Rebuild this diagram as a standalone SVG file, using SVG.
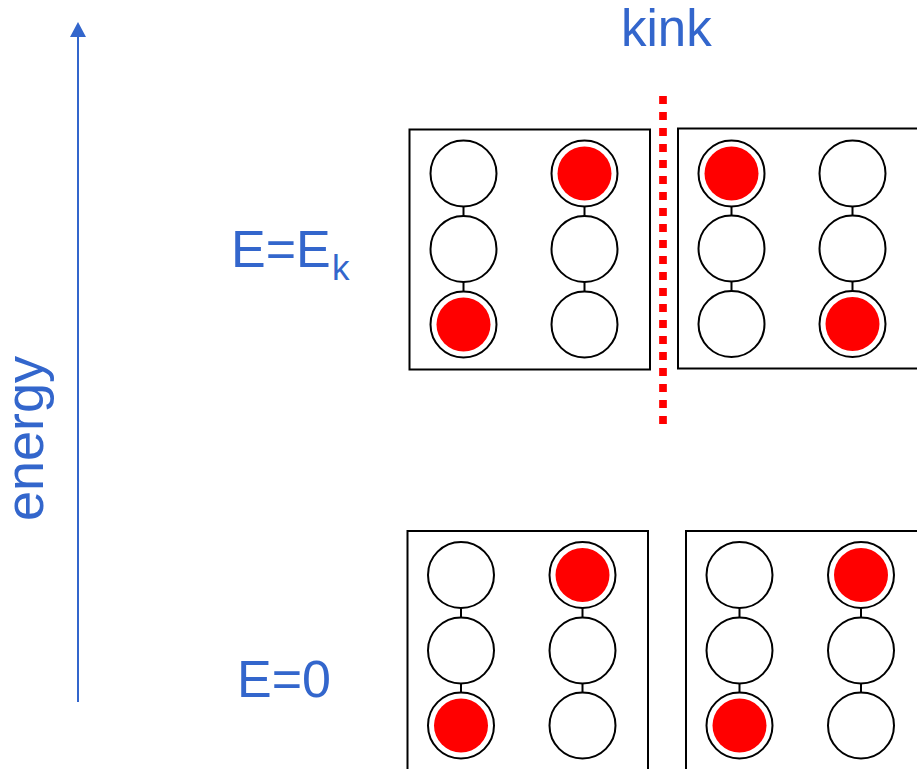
<svg xmlns="http://www.w3.org/2000/svg" width="917" height="769" viewBox="0 0 917 769">
<defs>
<style>
.box{fill:#fff;stroke:#000;stroke-width:2}
.c{fill:#fff;stroke:#000;stroke-width:2}
.dot{fill:#ff0000}
.link{stroke:#000;stroke-width:2}
.lbl{font-family:"Liberation Sans",Arial,sans-serif;fill:#3366cc}
</style>
<marker id="ah" markerWidth="16" markerHeight="16" viewBox="0 0 15 16" refX="0" refY="8" orient="auto" markerUnits="userSpaceOnUse">
<path d="M0,0 L15,8 L0,16 Z" fill="#3366cc"/>
</marker>
</defs>
<rect width="917" height="769" fill="#fff"/>

<g id="connectors">
<line x1="78" y1="702" x2="78" y2="37" stroke="#3366cc" stroke-width="2" marker-end="url(#ah)"/>
<line x1="663" y1="96" x2="663" y2="424" stroke="#ff0000" stroke-width="7.7" stroke-dasharray="8 8"/>
</g>

<g id="axis-label"><text class="lbl" font-size="54" transform="translate(43,521) rotate(-90)">energy</text></g>
<g id="label-kink"><text class="lbl" x="621" y="46" font-size="51">kink</text></g>
<g id="label-ek"><text class="lbl" x="231" y="267" font-size="52">E=E<tspan font-size="35" x="332" y="280">k</tspan></text></g>
<g id="label-e0"><text class="lbl" x="237" y="697" font-size="52">E=0</text></g>

<g id="box-top-left">
<rect class="box" x="409.5" y="129.5" width="240.5" height="240"/>
<line class="link" x1="463.5" y1="207" x2="463.5" y2="216"/>
<line class="link" x1="463.5" y1="282" x2="463.5" y2="291"/>
<line class="link" x1="584.5" y1="207" x2="584.5" y2="216"/>
<line class="link" x1="584.5" y1="282" x2="584.5" y2="291"/>
<circle class="c" cx="463.5" cy="173.5" r="33"/>
<circle class="c" cx="463.5" cy="249" r="33"/>
<circle class="c" cx="463.5" cy="324.5" r="33"/>
<circle class="c" cx="584.5" cy="173.5" r="33"/>
<circle class="c" cx="584.5" cy="249" r="33"/>
<circle class="c" cx="584.5" cy="324.5" r="33"/>
<circle class="dot" cx="584.5" cy="173.5" r="27"/>
<circle class="dot" cx="463.5" cy="324.5" r="27"/>
</g>

<g id="box-top-right">
<rect class="box" x="678" y="128.5" width="260" height="240"/>
<line class="link" x1="731.5" y1="206" x2="731.5" y2="216"/>
<line class="link" x1="731.5" y1="281" x2="731.5" y2="291"/>
<line class="link" x1="852.5" y1="206" x2="852.5" y2="216"/>
<line class="link" x1="852.5" y1="281" x2="852.5" y2="291"/>
<circle class="c" cx="731.5" cy="173.5" r="33"/>
<circle class="c" cx="731.5" cy="248.5" r="33"/>
<circle class="c" cx="731.5" cy="324" r="33"/>
<circle class="c" cx="852.5" cy="173.5" r="33"/>
<circle class="c" cx="852.5" cy="248.5" r="33"/>
<circle class="c" cx="852.5" cy="324" r="33"/>
<circle class="dot" cx="731.5" cy="173.5" r="27"/>
<circle class="dot" cx="852.5" cy="324" r="27"/>
</g>

<g id="box-bottom-left">
<rect class="box" x="407.5" y="531" width="240.5" height="260"/>
<line class="link" x1="461" y1="608" x2="461" y2="618"/>
<line class="link" x1="461" y1="683" x2="461" y2="693"/>
<line class="link" x1="582.5" y1="608" x2="582.5" y2="618"/>
<line class="link" x1="582.5" y1="683" x2="582.5" y2="693"/>
<circle class="c" cx="461" cy="575" r="33"/>
<circle class="c" cx="461" cy="650.5" r="33"/>
<circle class="c" cx="461" cy="725.5" r="33"/>
<circle class="c" cx="582.5" cy="575" r="33"/>
<circle class="c" cx="582.5" cy="650.5" r="33"/>
<circle class="c" cx="582.5" cy="725.5" r="33"/>
<circle class="dot" cx="582.5" cy="575" r="27"/>
<circle class="dot" cx="461" cy="725.5" r="27"/>
</g>

<g id="box-bottom-right">
<rect class="box" x="686" y="531" width="260" height="260"/>
<line class="link" x1="739.5" y1="608" x2="739.5" y2="618"/>
<line class="link" x1="739.5" y1="683" x2="739.5" y2="693"/>
<line class="link" x1="861" y1="608" x2="861" y2="618"/>
<line class="link" x1="861" y1="683" x2="861" y2="693"/>
<circle class="c" cx="739.5" cy="575" r="33"/>
<circle class="c" cx="739.5" cy="650.5" r="33"/>
<circle class="c" cx="739.5" cy="725.5" r="33"/>
<circle class="c" cx="861" cy="575" r="33"/>
<circle class="c" cx="861" cy="650.5" r="33"/>
<circle class="c" cx="861" cy="725.5" r="33"/>
<circle class="dot" cx="861" cy="575" r="27"/>
<circle class="dot" cx="739.5" cy="725.5" r="27"/>
</g>
</svg>
